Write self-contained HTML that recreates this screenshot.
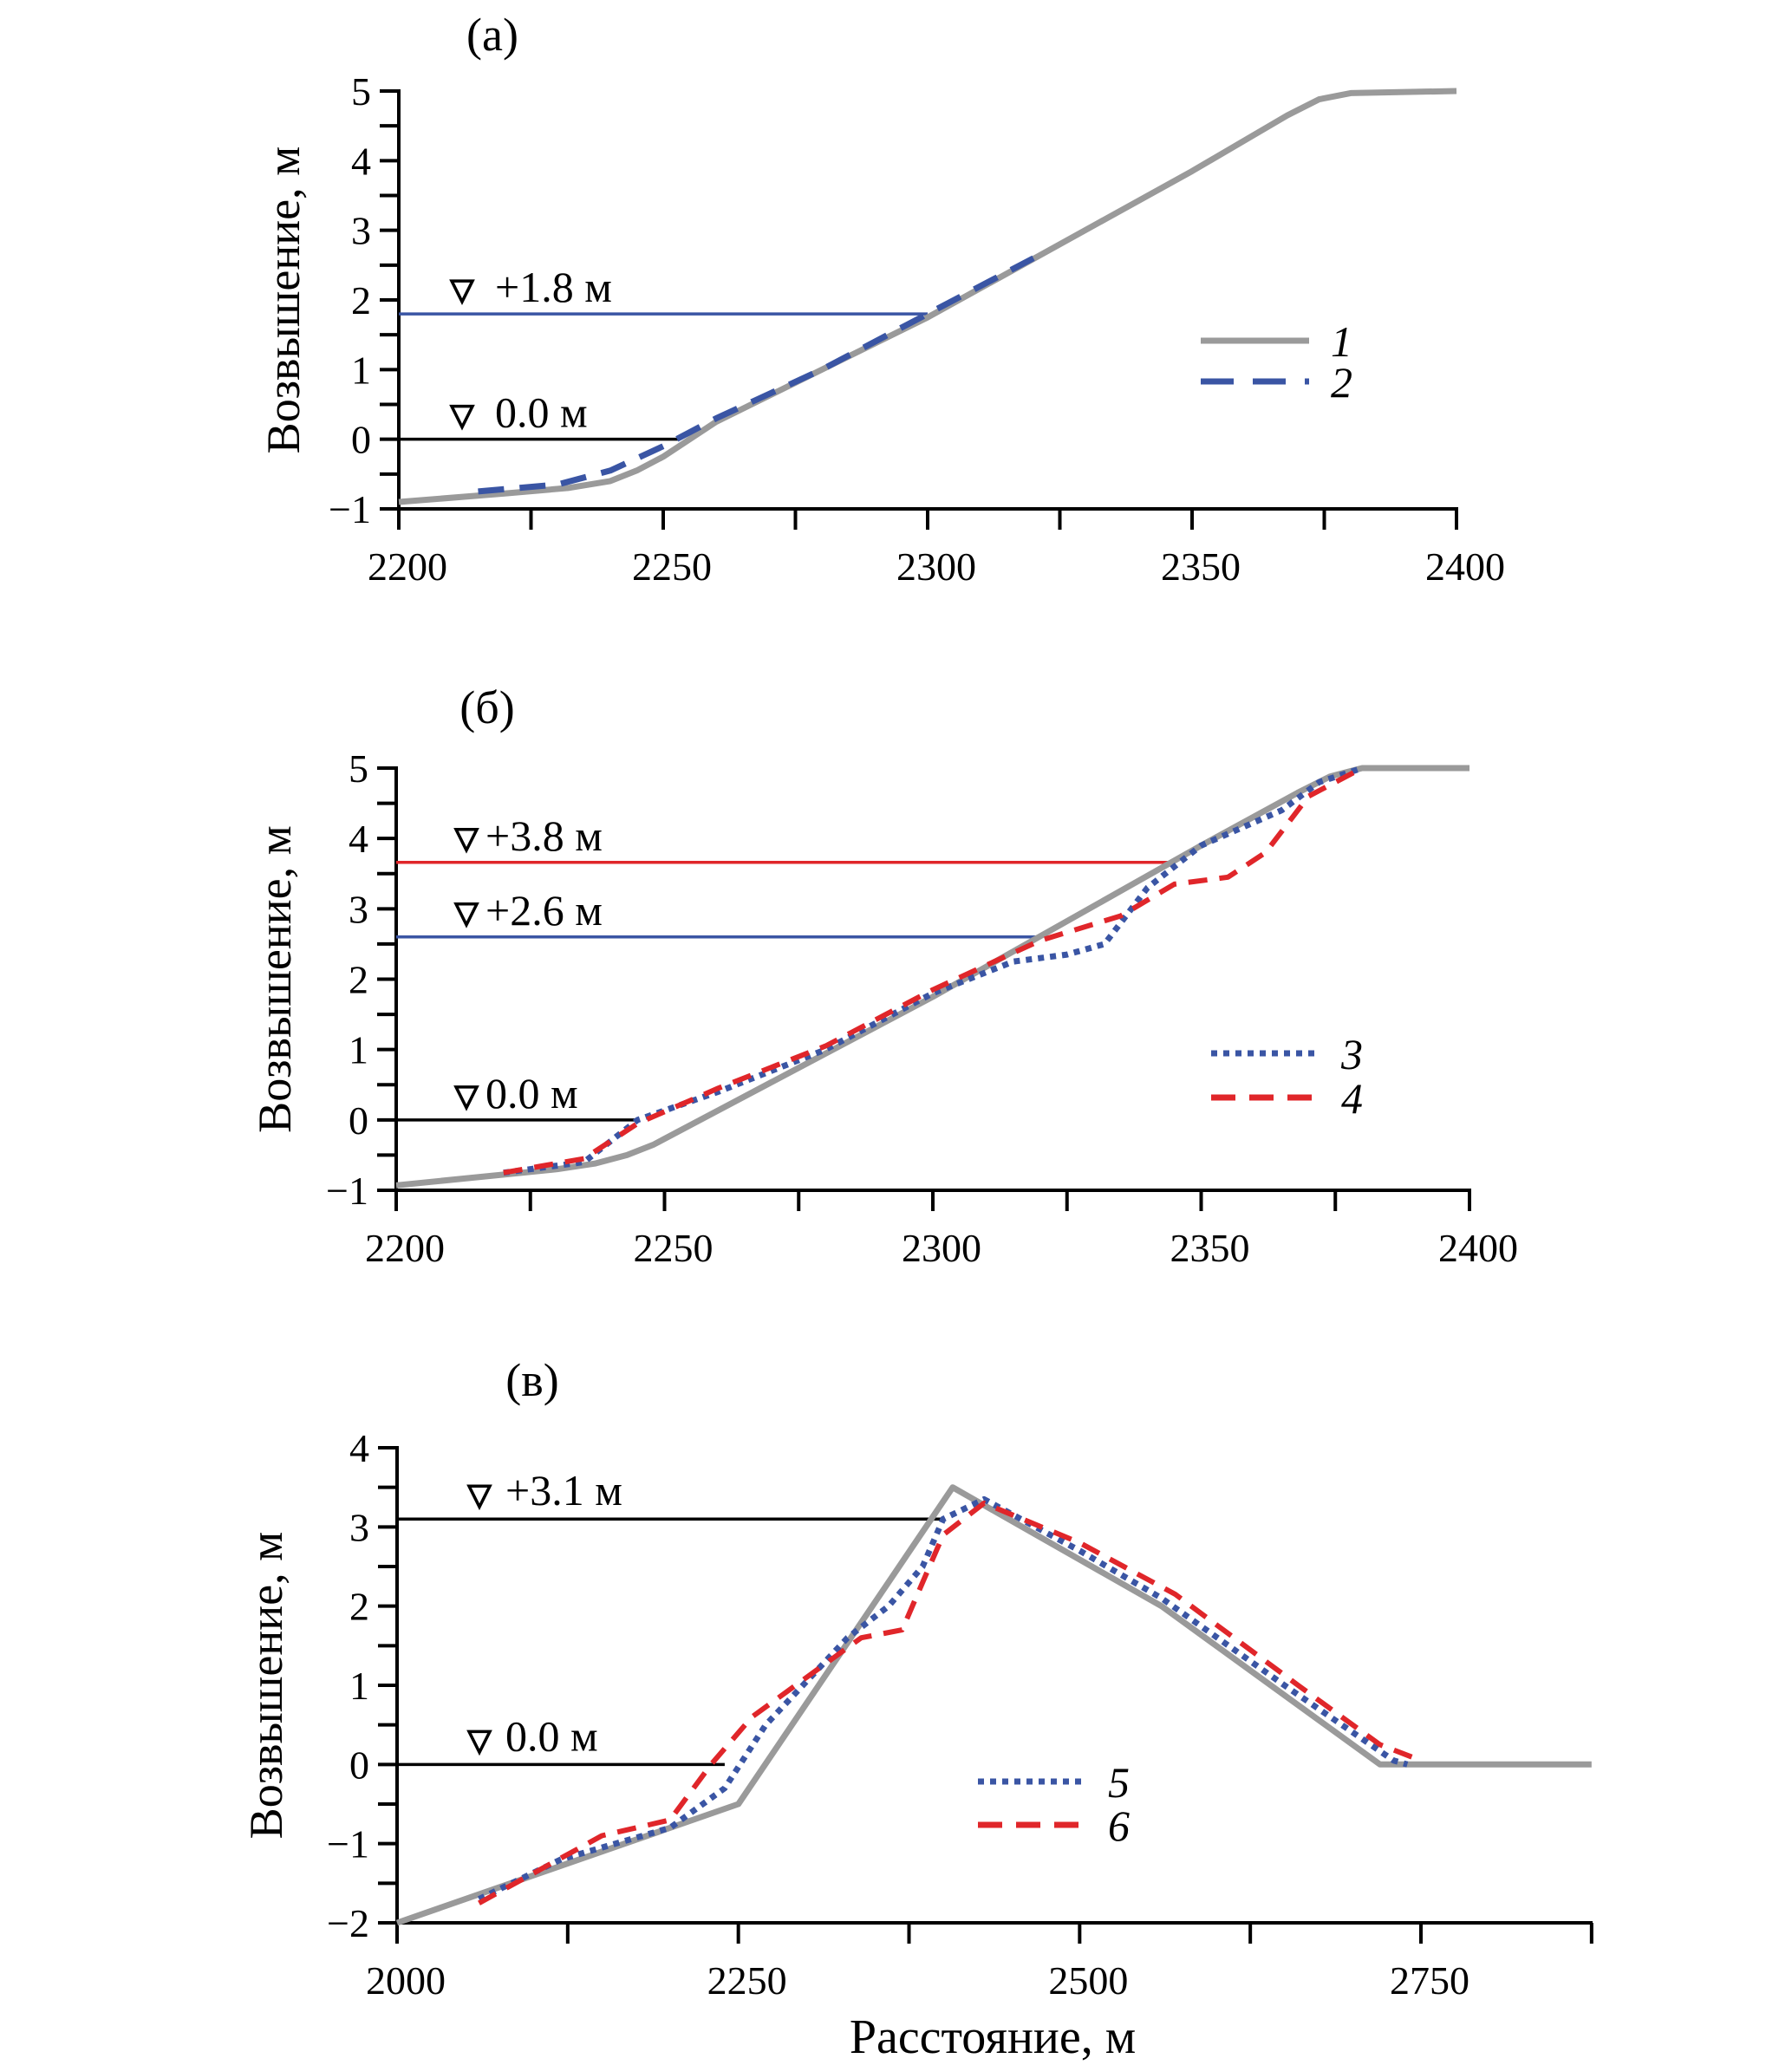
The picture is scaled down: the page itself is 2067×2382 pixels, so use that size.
<!DOCTYPE html>
<html><head><meta charset="utf-8"><style>
html,body{margin:0;padding:0;background:#fff;}
svg{display:block;font-family:"Liberation Serif",serif;}
</style></head><body>
<svg id="chart" width="2067" height="2382" viewBox="0 0 2067 2382" xmlns="http://www.w3.org/2000/svg"></svg>
<script>
// ---- data ----
const aProfileX=[2200,2220,2232,2240,2245,2250,2260,2300,2350,2368,2374,2380,2400];
const aProfileY=[-0.9,-0.78,-0.7,-0.6,-0.45,-0.25,0.25,1.75,3.85,4.65,4.88,4.97,5.0];
const aSeries2X=[2215,2230,2240,2250,2260,2280,2300,2320];
const aSeries2Y=[-0.75,-0.65,-0.45,-0.1,0.3,1.0,1.8,2.6];
const aLevels=[1.8,0.0];
const aLevelEnds=[2300,2253];
const aLevelLabels=["+1.8 м","0.0 м"];

const bProfileX=[2200,2230,2237,2243,2248,2300,2350,2368,2374,2380,2400];
const bProfileY=[-0.93,-0.7,-0.62,-0.5,-0.35,1.75,3.9,4.65,4.88,5.0,5.0];
const bSeries3X=[2220,2235,2245,2260,2280,2300,2315,2325,2332,2340,2350,2365,2372,2380];
const bSeries3Y=[-0.75,-0.6,0.0,0.4,1.0,1.8,2.25,2.35,2.5,3.3,3.9,4.4,4.8,5.0];
const bSeries4X=[2220,2235,2245,2260,2280,2300,2320,2335,2345,2355,2362,2370,2380];
const bSeries4Y=[-0.75,-0.55,-0.05,0.45,1.05,1.85,2.55,2.9,3.35,3.45,3.8,4.6,5.0];
const bLevels=[3.66,2.6,0.0];
const bLevelEnds=[2345,2320,2245];
const bLevelLabels=["+3.8 м","+2.6 м","0.0 м"];

const cProfileX=[2000,2250,2407,2560,2720,2875];
const cProfileY=[-2,-0.5,3.5,2.0,0,0];
const cSeries5X=[2060,2120,2200,2240,2270,2330,2360,2385,2400,2430,2500,2560,2650,2730,2740];
const cSeries5Y=[-1.7,-1.2,-0.8,-0.3,0.5,1.6,2.0,2.5,3.1,3.35,2.7,2.1,1.0,0.05,0];
const cSeries6X=[2060,2150,2200,2230,2260,2340,2370,2385,2400,2430,2500,2570,2660,2720,2750];
const cSeries6Y=[-1.75,-0.9,-0.7,0,0.6,1.6,1.7,2.3,2.9,3.3,2.8,2.15,1.0,0.25,0.05];
const cLevels=[3.1,0.0];
const cLevelEnds=[2400,2240];
const cLevelLabels=["+3.1 м","0.0 м"];

const abXTicks=[2200,2250,2300,2350,2400];
const abYTicks=[-1,0,1,2,3,4,5];
const cXTicks=[2000,2250,2500,2750];
const cYTicks=[-2,-1,0,1,2,3,4];

// ---- drawing ----
const NS="http://www.w3.org/2000/svg";
const svg=document.getElementById('chart');
function el(tag,attrs,parent){const e=document.createElementNS(NS,tag);for(const k in attrs)e.setAttribute(k,attrs[k]);(parent||svg).appendChild(e);return e;}

function panel(cfg){
  const g=el('g',{});
  
  
  const sx=v=>cfg.px0+(v-cfg.x0)/(cfg.x1-cfg.x0)*(cfg.px1-cfg.px0);
  const sy=v=>cfg.py0+(v-cfg.y0)/(cfg.y1-cfg.y0)*(cfg.py1-cfg.py0);
  const yb=sy(cfg.y0), xl=sx(cfg.x0), xr=cfg.axisEnd;
  const t=el('text',{x:cfg.titleX,y:cfg.titleY,'font-size':54,'text-anchor':'middle'},g);t.textContent=cfg.title;
  
  const ya=el('line',{x1:xl,y1:sy(cfg.y1)-2,x2:xl,y2:yb,stroke:'#000','stroke-width':4},g);
  
  const xa=el('line',{x1:xl-22,y1:yb,x2:xr,y2:yb,stroke:'#000','stroke-width':4},g);
  
  for(let i=0;i<cfg.yTicks.length;i++){
    const v=cfg.yTicks[i],y=sy(v);
    el('line',{x1:xl-22,y1:y,x2:xl,y2:y,stroke:'#000','stroke-width':4},g);
    if(i<cfg.yTicks.length-1) el('line',{x1:xl-22,y1:sy(v+0.5),x2:xl,y2:sy(v+0.5),stroke:'#000','stroke-width':4},g);
    const tl=el('text',{x:xl-32,y:y+16,'font-size':46,'text-anchor':'end'},g);
    tl.textContent=v<0?'\u2212'+Math.abs(v):String(v);
    
  }
  const step=(cfg.xTicks[1]-cfg.xTicks[0])/2;
  for(let v=cfg.x0;sx(v)<=xr+1;v+=step){
    el('line',{x1:sx(v),y1:yb,x2:sx(v),y2:yb+24,stroke:'#000','stroke-width':4},g);
  }
  for(const v of cfg.xTicks){
    const tl=el('text',{x:sx(v)+10,y:yb+82,'font-size':46,'text-anchor':'middle'},g);
    tl.textContent=String(v);
    
  }
  const yt=el('text',{x:0,y:0,'font-size':54,'text-anchor':'middle',transform:`translate(${cfg.ylabX},${(sy(cfg.y0)+sy(cfg.y1))/2}) rotate(-90)`},g);
  yt.textContent='Возвышение, м';
  
  for(let i=0;i<cfg.levels.length;i++){
    const y=sy(cfg.levels[i]);
    const ln=el('line',{x1:xl,y1:y,x2:sx(cfg.levelEnds[i]),y2:y,stroke:cfg.levelColors[i],'stroke-width':3.5},g);
    
    const mx=cfg.markX;
    const tri=el('path',{d:`M${mx-12},${y-38} L${mx+12},${y-38} L${mx},${y-14} Z`,fill:'#fff',stroke:'#000','stroke-width':3.5},g);
    
    const lt=el('text',{x:mx+cfg.labDx,y:y-cfg.labDy,'font-size':50},g);
    lt.textContent=cfg.levelLabels[i];
    
  }
  function line(xs,ys,color,dash,w,name){
    const p=xs.map((x,i)=>(i?'L':'M')+sx(x).toFixed(1)+','+sy(ys[i]).toFixed(1)).join(' ');
    const e=el('path',{d:p,fill:'none',stroke:color,'stroke-width':w,'stroke-dasharray':dash||'none','stroke-linejoin':'round'},g);
    
  }
  line(cfg.profX,cfg.profY,'#9a9a9a',null,7,'series-1-profile');
  for(const s of cfg.series) line(s.x,s.y,s.color,s.dash,s.w,s.name);
  const lg=el('g',{},g);
  
  cfg.legend.forEach((L,i)=>{
    const y=cfg.legY+i*cfg.legGap;
    el('line',{x1:cfg.legX,y1:y,x2:cfg.legX+125,y2:y,stroke:L.color,'stroke-width':L.w,'stroke-dasharray':L.dash||'none'},lg);
    const tx=el('text',{x:cfg.legX+150,y:y+18,'font-size':50,'font-style':'italic'},lg);
    tx.textContent=L.label;
    
  });
}

panel({name:'panel-a',title:'(a)',titleX:568,titleY:58,x0:2200,x1:2400,px0:460,px1:1680,axisEnd:1682,y0:-1,y1:5,py0:587,py1:105,
  xTicks:abXTicks,yTicks:abYTicks,ylabX:345,levels:aLevels,levelEnds:aLevelEnds,levelLabels:aLevelLabels,
  levelColors:['#3a55a4','#000'],markX:533,labDx:38,labDy:14,profX:aProfileX,profY:aProfileY,
  series:[{x:aSeries2X,y:aSeries2Y,color:'#3a55a4',dash:'30,18',w:7,name:'series-2'}],
  legend:[{label:'1',color:'#9a9a9a',w:7},{label:'2',color:'#3a55a4',w:7,dash:'38,22'}],legX:1385,legY:393,legGap:47});

panel({name:'panel-b',title:'(б)',titleX:562,titleY:834,x0:2200,x1:2400,px0:457,px1:1695,axisEnd:1697,y0:-1,y1:5,py0:1373,py1:886,
  xTicks:abXTicks,yTicks:abYTicks,ylabX:335,levels:bLevels,levelEnds:bLevelEnds,levelLabels:bLevelLabels,
  levelColors:['#e0262a','#3a55a4','#000'],markX:538,labDx:22,labDy:14,profX:bProfileX,profY:bProfileY,
  series:[{x:bSeries3X,y:bSeries3Y,color:'#3a55a4',dash:'7,7',w:7,name:'series-3'},{x:bSeries4X,y:bSeries4Y,color:'#e0262a',dash:'22,14',w:6,name:'series-4'}],
  legend:[{label:'3',color:'#3a55a4',w:7,dash:'7,7'},{label:'4',color:'#e0262a',w:7,dash:'28,16'}],legX:1397,legY:1215,legGap:51});

panel({name:'panel-c',title:'(в)',titleX:614,titleY:1610,x0:2000,x1:2750,px0:458,px1:1639,axisEnd:1837,y0:-2,y1:4,py0:2218,py1:1670,
  xTicks:cXTicks,yTicks:cYTicks,ylabX:325,levels:cLevels,levelEnds:cLevelEnds,levelLabels:cLevelLabels,
  levelColors:['#000','#000'],markX:553,labDx:30,labDy:16,profX:cProfileX,profY:cProfileY,
  series:[{x:cSeries5X,y:cSeries5Y,color:'#3a55a4',dash:'7,7',w:7,name:'series-5'},{x:cSeries6X,y:cSeries6Y,color:'#e0262a',dash:'22,14',w:6,name:'series-6'}],
  legend:[{label:'5',color:'#3a55a4',w:7,dash:'7,7'},{label:'6',color:'#e0262a',w:7,dash:'28,16'}],legX:1128,legY:2055,legGap:50});

const xt=el('text',{x:1145,y:2368,'font-size':56,'text-anchor':'middle'});
xt.textContent='Расстояние, м';


</script>
</body></html>
